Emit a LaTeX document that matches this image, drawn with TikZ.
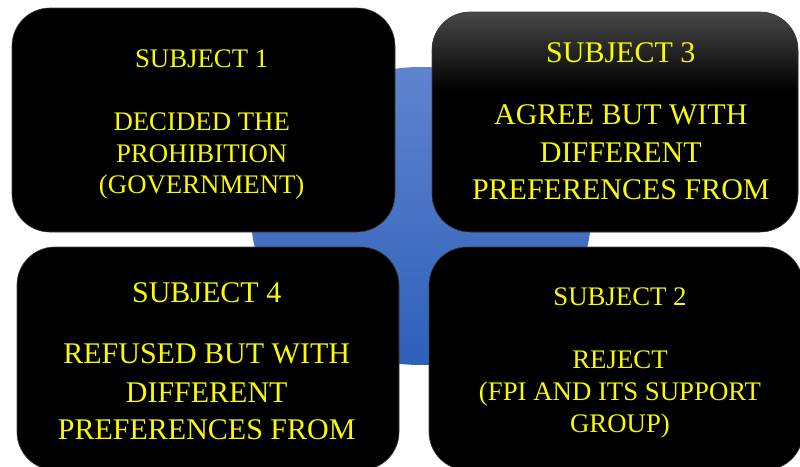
\documentclass[tikz,border=0pt]{standalone}
\usepackage{fontspec}
\setmainfont{Liberation Serif}
\usetikzlibrary{shapes.geometric}
\definecolor{blueTop}{RGB}{96,131,206}
\definecolor{blueBot}{RGB}{46,96,186}
\definecolor{txtYellow}{RGB}{250,250,0}
\pgfdeclareverticalshading{panelshade}{100bp}{color(0bp)=(black); color(57bp)=(black); color(75bp)=(black!72); color(100bp)=(black!72)}
\tikzset{
  panel/.style={draw=black!75, line width=0.6pt, fill=black, rounded corners=38pt, inner sep=0pt},
  gpanel/.style={panel, shading=panelshade},
  lbl/.style={text=txtYellow, anchor=base, inner sep=0pt},
  small/.style={lbl, font=\fontsize{26.8}{30}\selectfont},
  big/.style={lbl, font=\fontsize{30}{34}\selectfont},
}
\begin{document}
\begin{tikzpicture}[x=1pt, y=-1pt]
\useasboundingbox (0,0) rectangle (800,466);
\node[ellipse, inner sep=0pt, minimum width=340pt, minimum height=298pt,
      top color=blueTop, bottom color=blueBot, draw=none] (c) at (421,216) {};
\node[panel, minimum width=383pt, minimum height=224pt] (b1) at (203.5,120) {};
\node[gpanel, minimum width=366pt, minimum height=220pt] (b3) at (615,122) {};
\node[panel, minimum width=382pt, minimum height=223pt] (b4) at (208,358.5) {};
\node[panel, minimum width=374pt, minimum height=223pt] (b2) at (616,358.5) {};
% box 1
\node[small] (t1a) at (201.7,67) {SUBJECT 1};
\node[small] (t1b) at (201.7,130) {DECIDED THE};
\node[small] (t1c) at (201.7,162) {PROHIBITION};
\node[small] (t1d) at (201.7,193) {(GOVERNMENT)};
% box 3
\node[big] (t3a) at (620.8,62) {SUBJECT 3};
\node[big] (t3b) at (620.8,124) {AGREE BUT WITH};
\node[big] (t3c) at (620.8,162) {DIFFERENT};
\node[big] (t3d) at (620.8,199) {PREFERENCES FROM};
% box 4
\node[big] (t4a) at (206.7,302) {SUBJECT 4};
\node[big] (t4b) at (206.7,363) {REFUSED BUT WITH};
\node[big] (t4c) at (206.7,402) {DIFFERENT};
\node[big] (t4d) at (206.7,439) {PREFERENCES FROM};
% box 2
\node[small] (t2a) at (620,305) {SUBJECT 2};
\node[small] (t2b) at (620,368) {REJECT};
\node[small] (t2c) at (620,400) {(FPI AND ITS SUPPORT};
\node[small] (t2d) at (620,432) {GROUP)};
\end{tikzpicture}
\end{document}
